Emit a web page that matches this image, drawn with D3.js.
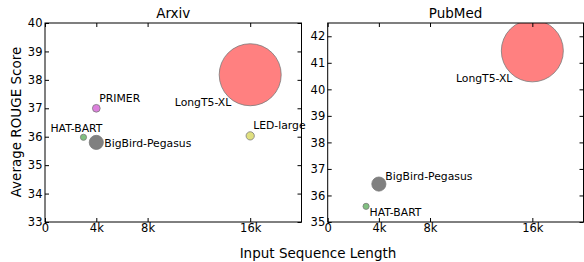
<!DOCTYPE html>
<html>
<head>
<meta charset="utf-8">
<script src="https://cdn.jsdelivr.net/npm/d3@7"></script>
<style>
  html, body { margin: 0; padding: 0; background: #fff; }
  svg { display: block; }
  text { font-family: "DejaVu Sans", sans-serif; fill: #000; }
</style>
</head>
<body>
<svg id="chart" width="584" height="262"></svg>
<script>
// ---- data ----
const arxivModels = ["LongT5-XL", "BigBird-Pegasus", "PRIMER", "LED-large", "HAT-BART"];
const arxivLength = [16000, 4000, 4000, 16000, 3000];
const arxivRouge  = [38.18, 35.80, 37.00, 36.03, 35.98];

const pubmedModels = ["LongT5-XL", "BigBird-Pegasus", "HAT-BART"];
const pubmedLength = [16000, 4000, 3000];
const pubmedRouge  = [41.45, 36.43, 35.59];

// relative bubble area per model
const bubbleModels = ["LongT5-XL", "BigBird-Pegasus", "PRIMER", "LED-large", "HAT-BART"];
const bubbleArea   = [961, 50, 15, 17, 9.5];

const xTickValues = [0, 4000, 8000, 16000];
const xTickLabels = ["0", "4k", "8k", "16k"];
const arxivYTicks = [33, 34, 35, 36, 37, 38, 39, 40];
const pubmedYTicks = [35, 36, 37, 38, 39, 40, 41, 42];

const panelTitles = ["Arxiv", "PubMed"];
const yAxisTitle = "Average ROUGE Score";
const xAxisTitle = "Input Sequence Length";

// ---- styles (not data) ----
const modelColor = {
  "LongT5-XL": "#ff8080",
  "BigBird-Pegasus": "#808080",
  "PRIMER": "#dc80dc",
  "LED-large": "#e0e080",
  "HAT-BART": "#80c080"
};
// label placement relative to point centre: [dx, dy, anchor]
const labelPlace = [
  { "LongT5-XL": [-19, 31, "end"], "BigBird-Pegasus": [8, 5, "start"], "PRIMER": [3, -6, "start"],
    "LED-large": [3, -7, "start"], "HAT-BART": [-33, -5.5, "start"] },
  { "LongT5-XL": [-20, 31, "end"], "BigBird-Pegasus": [6.5, -4.5, "start"], "HAT-BART": [3.5, 9.5, "start"] }
];

const panels = [
  { title: panelTitles[0], models: arxivModels, xs: arxivLength, ys: arxivRouge,
    yDomain: [33, 40], yTicks: arxivYTicks, x0: 45, x1: 301.5 },
  { title: panelTitles[1], models: pubmedModels, xs: pubmedLength, ys: pubmedRouge,
    yDomain: [35, 42.5], yTicks: pubmedYTicks, x0: 327.7, x1: 583.5 }
];
const plotTop = 23, plotBottom = 222;

const svg = d3.select("#chart");
const rScale = d3.scaleSqrt().domain([0, d3.max(bubbleArea)]).range([0, 31]);
const areaOf = m => bubbleArea[bubbleModels.indexOf(m)];

panels.forEach((p, pi) => {
  const x = d3.scaleLinear().domain([0, 20000]).range([p.x0, p.x1]);
  const y = d3.scaleLinear().domain(p.yDomain).range([plotBottom, plotTop]);
  const g = svg.append("g");

  const clipId = "clip" + pi;
  svg.append("clipPath").attr("id", clipId).append("rect")
    .attr("x", p.x0).attr("y", plotTop).attr("width", p.x1 - p.x0).attr("height", plotBottom - plotTop);

  const pts = p.models.map((m, i) => ({ m, xv: p.xs[i], yv: p.ys[i] }));

  // bubbles (largest first)
  g.append("g").attr("clip-path", `url(#${clipId})`)
    .selectAll("circle")
    .data(pts.slice().sort((a, b) => areaOf(b.m) - areaOf(a.m)))
    .join("circle")
    .attr("cx", d => x(d.xv)).attr("cy", d => y(d.yv))
    .attr("r", d => rScale(areaOf(d.m)))
    .attr("fill", d => modelColor[d.m])
    .attr("stroke", "#7a7a7a").attr("stroke-width", 0.8);

  // axes: inward ticks on all sides
  const tl = 4;
  const xb = d3.axisBottom(x).tickValues(xTickValues).tickFormat((d, i) => xTickLabels[i]).tickSizeInner(-tl).tickSizeOuter(0).tickPadding(6);
  const xt = d3.axisTop(x).tickValues(xTickValues).tickFormat("").tickSizeInner(-tl).tickSizeOuter(0);
  const yl = d3.axisLeft(y).tickValues(p.yTicks).tickFormat(d3.format("d")).tickSizeInner(-tl).tickSizeOuter(0).tickPadding(6);
  const yr = d3.axisRight(y).tickValues(p.yTicks).tickFormat("").tickSizeInner(-tl).tickSizeOuter(0);

  const ax = [
    g.append("g").attr("transform", `translate(0,${plotBottom})`).call(xb),
    g.append("g").attr("transform", `translate(0,${plotTop})`).call(xt),
    g.append("g").attr("transform", `translate(${p.x0},0)`).call(yl),
    g.append("g").attr("transform", `translate(${p.x1},0)`).call(yr)
  ];
  ax.forEach(a => {
    a.select(".domain").remove();
    a.selectAll("line").attr("stroke", "#000").attr("stroke-width", 1);
    a.selectAll("text").style("font-family", '"DejaVu Sans", sans-serif').style("font-size", "11.5px").attr("fill", "#000");
  });
  ax[0].selectAll("text").attr("dy", "0.71em").attr("y", 2);
  ax[2].selectAll("text").attr("x", -2.5);

  // frame
  g.append("rect").attr("x", p.x0).attr("y", plotTop).attr("width", p.x1 - p.x0).attr("height", plotBottom - plotTop)
    .attr("fill", "none").attr("stroke", "#000").attr("stroke-width", 1);

  // point labels
  g.append("g").selectAll("text").data(pts).join("text")
    .attr("x", d => x(d.xv) + labelPlace[pi][d.m][0])
    .attr("y", d => y(d.yv) + labelPlace[pi][d.m][1])
    .attr("text-anchor", d => labelPlace[pi][d.m][2])
    .style("font-size", "10.8px")
    .text(d => d.m);

  // title
  g.append("text").attr("x", (p.x0 + p.x1) / 2).attr("y", 18)
    .attr("text-anchor", "middle").style("font-size", "13.5px").text(p.title);
});

svg.append("text").attr("transform", "translate(21,122) rotate(-90)")
  .attr("text-anchor", "middle").style("font-size", "13.5px").text(yAxisTitle);
svg.append("text").attr("x", 318).attr("y", 258)
  .attr("text-anchor", "middle").style("font-size", "13.5px").text(xAxisTitle);
</script>
</body>
</html>
